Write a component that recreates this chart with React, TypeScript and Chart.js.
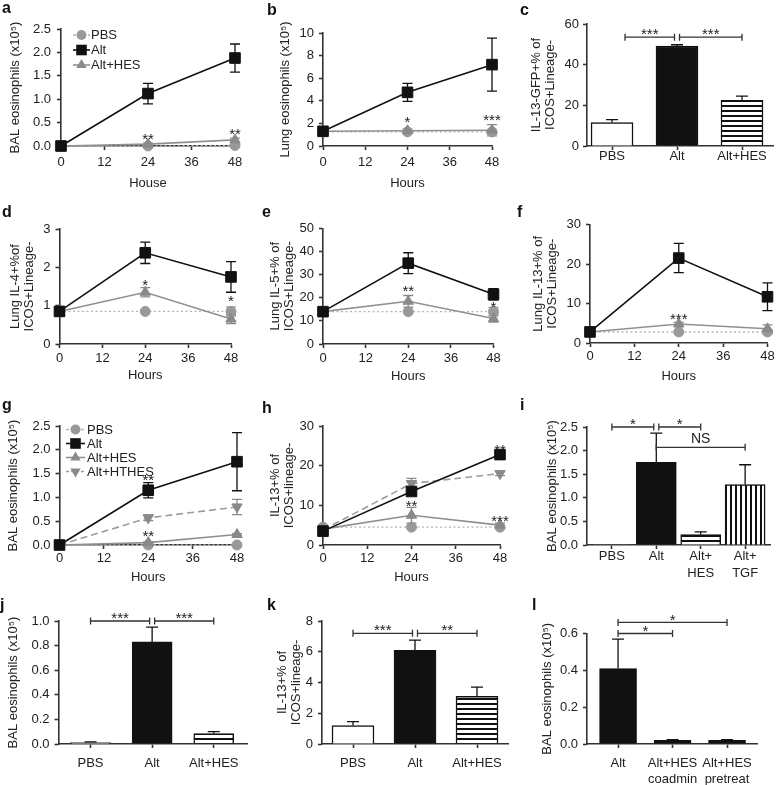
import React, { useEffect, useRef } from "react";
import { Chart, registerables } from "chart.js";
Chart.register(...registerables);

const FONT = "'Liberation Sans', Arial, Helvetica, sans-serif";
const TXT = "#222";
const AXIS = "#333";

// ---------------- shared ----------------
const hours = [0, 24, 48];
const hourTicks = [0, 12, 24, 36, 48];

// ---------------- a ----------------
const aYTicks = [0, 0.5, 1.0, 1.5, 2.0, 2.5];
const aPBS = [0, 0, 0.01];
const aPBSErr = [0, 0.005, 0.02];
const aAlt = [0, 1.12, 1.88];
const aAltErr = [0, 0.22, 0.3];
const aHES = [0, 0.04, 0.13];
const aHESErr = [0, 0.02, 0.04];
const aStars = [{ x: 24, y: 0.235, t: "**" }, { x: 48, y: 0.33, t: "**" }];

// ---------------- b ----------------
const bYTicks = [0, 2, 4, 6, 8, 10];
const bPBS = [1.25, 1.25, 1.25];
const bPBSErr = [0, 0, 0.2];
const bAlt = [1.3, 4.75, 7.2];
const bAltErr = [0, 0.8, 2.35];
const bHES = [1.3, 1.35, 1.4];
const bHESErr = [0, 0.15, 0.5];
const bStars = [{ x: 24, y: 2.45, t: "*" }, { x: 48, y: 2.6, t: "***" }];

// ---------------- c ----------------
const cYTicks = [0, 20, 40, 60];
const cLabels = ["PBS", "Alt", "Alt+HES"];
const cVals = [11.5, 49.2, 22.5];
const cErr = [1.5, 0.6, 2.0];
const cFills = ["white", "black", "h"];
const cBrackets = [
  { x1: 0.2, x2: 1, y: 53.5, t: "***", g2: 2.5 },
  { x1: 1, x2: 2, y: 53.5, t: "***", g1: 2.5 },
];

// ---------------- d ----------------
const dYTicks = [0, 1, 2, 3];
const dPBS = [0.85, 0.85, 0.85];
const dPBSErr = [0.12, 0, 0.12];
const dAlt = [0.85, 2.38, 1.75];
const dAltErr = [0, 0.28, 0.4];
const dHES = [0.85, 1.35, 0.65];
const dHESErr = [0.1, 0.12, 0.12];
const dStars = [{ x: 24, y: 1.63, t: "*" }, { x: 48, y: 1.21, t: "*" }];

// ---------------- e ----------------
const eYTicks = [0, 10, 20, 30, 40, 50];
const ePBS = [14, 14, 14];
const ePBSErr = [0, 0, 1.8];
const eAlt = [14, 35, 21.5];
const eAltErr = [1, 4.5, 2.5];
const eHES = [14, 18.5, 11];
const eHESErr = [1, 2.5, 1.5];
const eStars = [{ x: 24, y: 24.4, t: "**" }, { x: 48, y: 17.6, t: "*" }];

// ---------------- f ----------------
const fYTicks = [0, 10, 20, 30];
const fPBS = [2.8, 2.8, 2.8];
const fPBSErr = [0, 0, 0.6];
const fAlt = [2.8, 21.5, 11.7];
const fAltErr = [0.3, 3.7, 3.5];
const fHES = [2.8, 4.8, 3.6];
const fHESErr = [0.3, 0.4, 1.0];
const fStars = [{ x: 24, y: 7.1, t: "***" }];

// ---------------- g ----------------
const gYTicks = [0, 0.5, 1.0, 1.5, 2.0, 2.5];
const gPBS = [0, 0, 0];
const gAlt = [0, 1.15, 1.75];
const gAltErr = [0, 0.16, 0.61];
const gHES = [0, 0.05, 0.22];
const gHESErr = [0, 0.02, 0.02];
const gHTHES = [0, 0.57, 0.8];
const gHTHESErr = [0, 0.06, 0.16];
const gStars = [{ x: 24, y: 1.45, t: "**" }, { x: 24, y: 0.26, t: "**" }];

// ---------------- h ----------------
const hYTicks = [0, 10, 20, 30];
const hPBS = [4.5, 4.5, 4.5];
const hAlt = [3.5, 13.5, 22.8];
const hAltErr = [0, 0.7, 1.2];
const hHES = [4, 7.5, 5];
const hHESErr = [0, 2, 0.5];
const hHTHES = [3.8, 15.5, 18];
const hHTHESErr = [0, 1.3, 0.5];
const hStars = [
  { x: 24, y: 10.8, t: "**" },
  { x: 48, y: 24.8, t: "**" },
  { x: 48, y: 6.9, t: "***" },
];

// ---------------- i ----------------
const iYTicks = [0, 0.5, 1.0, 1.5, 2.0, 2.5];
const iLabels = ["PBS", "Alt", ["Alt+", "HES"], ["Alt+", "TGF"]];
const iVals = [0.01, 1.75, 0.22, 1.28];
const iErr = [0, 0.62, 0.06, 0.42];
const iFills = ["white", "black", "h", "v"];
const iBrackets = [
  { x1: 0, x2: 1, y: 2.5, t: "*", g2: 2.5 },
  { x1: 1, x2: 2, y: 2.5, t: "*", g1: 2.5 },
  { x1: 1, x2: 3, y: 2.07, t: "NS" },
];

// ---------------- j ----------------
const jYTicks = [0, 0.2, 0.4, 0.6, 0.8, 1.0];
const jLabels = ["PBS", "Alt", "Alt+HES"];
const jVals = [0.012, 0.83, 0.085];
const jErr = [0.006, 0.12, 0.015];
const jFills = ["white", "black", "h"];
const jBrackets = [
  { x1: 0, x2: 1, y: 1.0, t: "***", g2: 2.5 },
  { x1: 1, x2: 2, y: 1.0, t: "***", g1: 2.5 },
];

// ---------------- k ----------------
const kYTicks = [0, 2, 4, 6, 8];
const kLabels = ["PBS", "Alt", "Alt+HES"];
const kVals = [1.2, 6.1, 3.1];
const kErr = [0.25, 0.65, 0.6];
const kFills = ["white", "black", "h"];
const kBrackets = [
  { x1: 0, x2: 1, y: 7.2, t: "***", g2: 2.5 },
  { x1: 1, x2: 2, y: 7.2, t: "**", g1: 2.5 },
];

// ---------------- l ----------------
const lYTicks = [0, 0.2, 0.4, 0.6];
const lLabels = ["Alt", ["Alt+HES", "coadmin"], ["Alt+HES", "pretreat"]];
const lVals = [0.41, 0.02, 0.02];
const lErr = [0.16, 0.003, 0.003];
const lFills = ["black", "black", "black"];
const lBrackets = [
  { x1: 0, x2: 1, y: 0.6, t: "*" },
  { x1: 0, x2: 2, y: 0.66, t: "*" },
];

// ---------------- styles ----------------
const STY: Record<string, any> = {
  pbs: { borderColor: "#b5b5b5", pointBackgroundColor: "#999", pointBorderColor: "#999", pointStyle: "circle", pointRadius: 5, pointRotation: 0, borderWidth: 1.4, borderDash: [2, 2.5], err: "#999", order: 4 },
  alt: { borderColor: "#111", pointBackgroundColor: "#111", pointBorderColor: "#111", pointStyle: "rect", pointRadius: 7.5, pointRotation: 0, borderWidth: 1.6, borderDash: [], err: "#111", order: 1 },
  hes: { borderColor: "#909090", pointBackgroundColor: "#8a8a8a", pointBorderColor: "#8a8a8a", pointStyle: "triangle", pointRadius: 6, pointRotation: 0, borderWidth: 1.6, borderDash: [], err: "#8a8a8a", order: 2 },
  hthes: { borderColor: "#9c9c9c", pointBackgroundColor: "#8a8a8a", pointBorderColor: "#8a8a8a", pointStyle: "triangle", pointRadius: 6, pointRotation: 180, borderWidth: 1.6, borderDash: [7, 4], err: "#8a8a8a", order: 3 },
};

const BAL = "BAL eosinophils (x10\u2075)";

const panels: any[] = [
  {
    id: "a", type: "line", box: [0, 0, 255, 195], area: [61, 29, 235, 146],
    yTicks: aYTicks, yDec: 1, yTitle: BAL, yTitleX: 15, yTickPad: 6,
    xTitle: "House", xTitleY: 183, xTickCY: 162,
    series: [
      { label: "PBS", kind: "pbs", y: aPBS, err: aPBSErr },
      { label: "Alt", kind: "alt", y: aAlt, err: aAltErr },
      { label: "Alt+HES", kind: "hes", y: aHES, err: aHESErr },
    ],
    stars: aStars,
    legend: { x: 73, y: 35, row: 15, len: 17, tx: 91 },
  },
  {
    id: "b", type: "line", box: [255, 0, 255, 195], area: [323, 33, 492, 146],
    yTicks: bYTicks, yDec: 0, yTitle: "Lung eosinophils (x10\u2075)", yTitleX: 285, yTickPad: 5,
    xTitle: "Hours", xTitleY: 183, xTickCY: 162,
    series: [
      { label: "PBS", kind: "pbs", y: bPBS, err: bPBSErr },
      { label: "Alt", kind: "alt", y: bAlt, err: bAltErr },
      { label: "Alt+HES", kind: "hes", y: bHES, err: bHESErr },
    ],
    stars: bStars,
  },
  {
    id: "c", type: "bar", box: [510, 0, 266, 195], area: [587, 24, 773, 146], xRange: [-0.385, 2.477],
    yTicks: cYTicks, yDec: 0, yTitle: ["IL-13-GFP+% of", "ICOS+Lineage-"], yTitleX: 536, yTickPad: 4,
    xTickCY: 156, xTickLH: 15.6, labels: cLabels, values: cVals, errors: cErr, fills: cFills, barW: 42,
    brackets: cBrackets,
  },
  {
    id: "d", type: "line", box: [0, 195, 255, 195], area: [59.5, 229, 231, 344],
    yTicks: dYTicks, yDec: 0, yTitle: ["Lung IL-4+%of", "ICOS+Lineage-"], yTitleX: 15, yTickPad: 5,
    xTitle: "Hours", xTitleY: 375.7, xTickCY: 358.3,
    series: [
      { label: "PBS", kind: "pbs", y: dPBS, err: dPBSErr },
      { label: "Alt", kind: "alt", y: dAlt, err: dAltErr },
      { label: "Alt+HES", kind: "hes", y: dHES, err: dHESErr },
    ],
    stars: dStars,
  },
  {
    id: "e", type: "line", box: [255, 195, 255, 195], area: [323, 228.5, 493.5, 344],
    yTicks: eYTicks, yDec: 0, yTitle: ["Lung IL-5+% of", "ICOS+Lineage-"], yTitleX: 275, yTickPad: 5,
    xTitle: "Hours", xTitleY: 376.7, xTickCY: 358.3,
    series: [
      { label: "PBS", kind: "pbs", y: ePBS, err: ePBSErr },
      { label: "Alt", kind: "alt", y: eAlt, err: eAltErr },
      { label: "Alt+HES", kind: "hes", y: eHES, err: eHESErr },
    ],
    stars: eStars,
  },
  {
    id: "f", type: "line", box: [510, 195, 266, 195], area: [590, 224.5, 768.5, 343],
    yTicks: fYTicks, yDec: 0, yTitle: ["Lung IL-13+% of", "ICOS+Lineage-"], yTitleX: 538, yTickPad: 5,
    xTitle: "Hours", xTitleY: 376.7, xTickCY: 356.7,
    series: [
      { label: "PBS", kind: "pbs", y: fPBS, err: fPBSErr },
      { label: "Alt", kind: "alt", y: fAlt, err: fAltErr },
      { label: "Alt+HES", kind: "hes", y: fHES, err: fHESErr },
    ],
    stars: fStars,
  },
  {
    id: "g", type: "line", box: [0, 390, 255, 205], area: [59.5, 426, 237, 545],
    yTicks: gYTicks, yDec: 1, yTitle: BAL, yTitleX: 13, yTickPad: 5,
    xTitle: "Hours", xTitleY: 577.7, xTickCY: 558.3,
    series: [
      { label: "PBS", kind: "pbs", y: gPBS },
      { label: "Alt", kind: "alt", y: gAlt, err: gAltErr },
      { label: "Alt+HES", kind: "hes", y: gHES, err: gHESErr },
      { label: "Alt+HTHES", kind: "hthes", y: gHTHES, err: gHTHESErr },
    ],
    stars: gStars,
    legend: { x: 66, y: 429.5, row: 14, len: 19, tx: 87 },
  },
  {
    id: "h", type: "line", box: [255, 390, 255, 205], area: [323, 426, 500, 545],
    yTicks: hYTicks, yDec: 0, yTitle: ["IL-13+% of", "ICOS+lineage-"], yTitleX: 275, yTickPad: 5,
    xTitle: "Hours", xTitleY: 577.7, xTickCY: 558.3,
    series: [
      { label: "PBS", kind: "pbs", y: hPBS },
      { label: "Alt", kind: "alt", y: hAlt, err: hAltErr },
      { label: "Alt+HES", kind: "hes", y: hHES, err: hHESErr },
      { label: "Alt+HTHES", kind: "hthes", y: hHTHES, err: hHTHESErr },
    ],
    stars: hStars,
  },
  {
    id: "i", type: "bar", box: [510, 390, 266, 210], area: [587, 427, 770, 545], xRange: [-0.56, 3.56],
    yTicks: iYTicks, yDec: 1, yTitle: BAL, yTitleX: 552, yTickPad: 5,
    xTickCY: 556.7, xTickLH: 16.7, labels: iLabels, values: iVals, errors: iErr, fills: iFills, barW: 40,
    brackets: iBrackets,
  },
  {
    id: "j", type: "bar", box: [0, 598, 255, 187], area: [58.5, 621, 247, 744], xRange: [-0.52, 2.54],
    yTicks: jYTicks, yDec: 1, yTitle: BAL, yTitleX: 13, yTickPad: 5,
    xTickCY: 763, xTickLH: 15.6, labels: jLabels, values: jVals, errors: jErr, fills: jFills, barW: 40,
    brackets: jBrackets,
  },
  {
    id: "k", type: "bar", box: [255, 598, 255, 187], area: [322, 621, 508, 744], xRange: [-0.5, 2.5],
    yTicks: kYTicks, yDec: 0, yTitle: ["IL-13+% of", "ICOS+lineage-"], yTitleX: 282, yTickPad: 5,
    xTickCY: 763, xTickLH: 15.6, labels: kLabels, values: kVals, errors: kErr, fills: kFills, barW: 42,
    brackets: kBrackets,
  },
  {
    id: "l", type: "bar", box: [510, 598, 266, 187], area: [587, 633.5, 757, 744], xRange: [-0.57, 2.55],
    yTicks: lYTicks, yDec: 1, yTitle: BAL, yTitleX: 547, yTickPad: 5,
    xTickCY: 763, xTickLH: 16.7, labels: lLabels, values: lVals, errors: lErr, fills: lFills, barW: 37,
    brackets: lBrackets,
  },
];

const panelLetters: [string, number, number][] = [
  ["a", 2, 13], ["b", 267, 15], ["c", 520, 15],
  ["d", 2, 217], ["e", 262, 217], ["f", 517, 217],
  ["g", 2, 410], ["h", 262, 413], ["i", 520, 410],
  ["j", 0, 610], ["k", 267, 610], ["l", 532, 610],
];

// ---------------- helpers ----------------
function hPattern(period: number, line: number) {
  const c = document.createElement("canvas");
  c.width = 4; c.height = period;
  const g = c.getContext("2d")!;
  g.fillStyle = "#fff"; g.fillRect(0, 0, 4, period);
  g.fillStyle = "#111"; g.fillRect(0, 0, 4, line);
  return g.createPattern(c, "repeat")!;
}
function vPattern(period: number, line: number) {
  const c = document.createElement("canvas");
  c.width = period; c.height = 4;
  const g = c.getContext("2d")!;
  g.fillStyle = "#fff"; g.fillRect(0, 0, period, 4);
  g.fillStyle = "#111"; g.fillRect(0, 0, line, 4);
  return g.createPattern(c, "repeat")!;
}

function drawMarker(ctx: CanvasRenderingContext2D, kind: string, x: number, y: number) {
  const st = STY[kind];
  const r = st.pointRadius;
  ctx.save();
  ctx.setLineDash([]);
  ctx.fillStyle = st.pointBackgroundColor;
  ctx.beginPath();
  if (st.pointStyle === "rect") {
    const s = r * Math.SQRT1_2;
    ctx.rect(x - s, y - s, 2 * s, 2 * s);
  } else if (st.pointStyle === "circle") {
    ctx.arc(x, y, r, 0, Math.PI * 2);
  } else {
    const rot = (st.pointRotation * Math.PI) / 180;
    for (let k = 0; k < 3; k++) {
      const a = rot + (k * 2 * Math.PI) / 3;
      const px = x + Math.sin(a) * r;
      const py = y - Math.cos(a) * r;
      if (k === 0) ctx.moveTo(px, py); else ctx.lineTo(px, py);
    }
    ctx.closePath();
  }
  ctx.fill();
  ctx.restore();
}

function drawStar(ctx: CanvasRenderingContext2D, t: string, x: number, cy: number, size = 15) {
  ctx.save();
  ctx.fillStyle = TXT;
  ctx.font = `${size}px ${FONT}`;
  ctx.textAlign = "center";
  ctx.textBaseline = "alphabetic";
  if (t === "NS") {
    ctx.font = `14px ${FONT}`;
    ctx.fillText(t, x, cy);
  } else {
    ctx.fillText(t, x, cy + 0.57 * size);
  }
  ctx.restore();
}

function extras(cfg: any) {
  const [L, T] = cfg.box;
  return {
    id: "extras",
    beforeDatasetsDraw(chart: any) {
      if (cfg.type !== "line") return;
      const { ctx } = chart;
      const xs = chart.scales.x, ys = chart.scales.y;
      cfg.series.forEach((s: any) => {
        if (!s.err) return;
        const st = STY[s.kind];
        ctx.save();
        ctx.strokeStyle = st.err;
        ctx.lineWidth = 1.3;
        ctx.setLineDash([]);
        s.y.forEach((v: number, i: number) => {
          const e = s.err[i];
          if (!e) return;
          const px = xs.getPixelForValue(hours[i]);
          const t = ys.getPixelForValue(v + e);
          const b = ys.getPixelForValue(Math.max(0, v - e));
          ctx.beginPath();
          ctx.moveTo(px, t); ctx.lineTo(px, b);
          ctx.moveTo(px - 5, t); ctx.lineTo(px + 5, t);
          ctx.moveTo(px - 5, b); ctx.lineTo(px + 5, b);
          ctx.stroke();
        });
        ctx.restore();
      });
    },
    afterDatasetsDraw(chart: any) {
      if (cfg.type !== "bar") return;
      const { ctx } = chart;
      const xs = chart.scales.x, ys = chart.scales.y;
      ctx.save();
      ctx.strokeStyle = "#111";
      ctx.lineWidth = 1.3;
      cfg.values.forEach((v: number, i: number) => {
        const e = cfg.errors[i];
        if (!e) return;
        const px = xs.getPixelForValue(i);
        const t = ys.getPixelForValue(v + e);
        const b = ys.getPixelForValue(v);
        ctx.beginPath();
        ctx.moveTo(px, t); ctx.lineTo(px, b);
        ctx.moveTo(px - 6, t); ctx.lineTo(px + 6, t);
        ctx.stroke();
      });
      ctx.restore();
    },
    afterDraw(chart: any) {
      const { ctx } = chart;
      const xs = chart.scales.x, ys = chart.scales.y;
      (cfg.stars || []).forEach((s: any) => {
        drawStar(ctx, s.t, xs.getPixelForValue(s.x), ys.getPixelForValue(s.y));
      });
      (cfg.brackets || []).forEach((b: any) => {
        const x1 = xs.getPixelForValue(b.x1) + (b.g1 || 0);
        const x2 = xs.getPixelForValue(b.x2) - (b.g2 || 0);
        const y = ys.getPixelForValue(b.y);
        ctx.save();
        ctx.strokeStyle = "#333";
        ctx.lineWidth = 1.3;
        ctx.beginPath();
        ctx.moveTo(x1, y); ctx.lineTo(x2, y);
        ctx.moveTo(x1, y - 3.5); ctx.lineTo(x1, y + 3.5);
        ctx.moveTo(x2, y - 3.5); ctx.lineTo(x2, y + 3.5);
        ctx.stroke();
        ctx.restore();
        if (b.t === "NS") drawStar(ctx, b.t, (x1 + x2) / 2, y - 4);
        else drawStar(ctx, b.t, (x1 + x2) / 2, y - 6.5);
      });
      if (cfg.legend) {
        const lg = cfg.legend;
        cfg.series.forEach((s: any, i: number) => {
          const st = STY[s.kind];
          const y = lg.y - T + i * lg.row;
          const x0 = lg.x - L;
          ctx.save();
          ctx.strokeStyle = st.borderColor;
          ctx.lineWidth = st.borderWidth;
          ctx.setLineDash(st.borderDash.length ? [3, 2] : []);
          ctx.beginPath();
          ctx.moveTo(x0, y); ctx.lineTo(x0 + lg.len, y);
          ctx.stroke();
          ctx.restore();
          drawMarker(ctx, s.kind, x0 + lg.len / 2, y);
          ctx.save();
          ctx.fillStyle = TXT;
          ctx.font = `13px ${FONT}`;
          ctx.textAlign = "left";
          ctx.textBaseline = "middle";
          ctx.fillText(s.label, lg.tx - L, y + 0.5);
          ctx.restore();
        });
      }
    },
  };
}

const TICK_FONT = { family: FONT, size: 13, lineHeight: 1.2 };
const TITLE_LH = 1.08;

function yScale(cfg: any) {
  const [L] = cfg.box;
  const yW = cfg.area[0] - L;
  const lh = 13 * TITLE_LH;
  return {
    type: "linear",
    min: 0,
    max: cfg.yTicks[cfg.yTicks.length - 1],
    bounds: "data",
    afterBuildTicks: (s: any) => { s.ticks = cfg.yTicks.map((v: number) => ({ value: v })); },
    afterFit: (s: any) => { s.width = yW; s.paddingTop = 0; s.paddingBottom = 0; },
    border: { display: true, color: AXIS, width: 1.6 },
    grid: { display: true, drawOnChartArea: false, drawTicks: true, tickLength: 4, tickWidth: 1.6, tickColor: AXIS },
    ticks: {
      color: TXT, font: TICK_FONT, padding: cfg.yTickPad, autoSkip: false,
      callback: (v: any) => Number(v).toFixed(cfg.yDec),
    },
    title: {
      display: true, text: cfg.yTitle, color: TXT,
      font: { family: FONT, size: 13, lineHeight: TITLE_LH },
      padding: { top: cfg.yTitleX - L - lh / 2, bottom: 0 },
    },
  };
}

function xBase(cfg: any, lh: number) {
  const [, T, , H] = cfg.box;
  const xH = T + H - cfg.area[3];
  return {
    type: "linear",
    bounds: "data",
    offset: false,
    afterFit: (s: any) => { s.height = xH; s.paddingLeft = 0; s.paddingRight = 0; },
    border: { display: true, color: AXIS, width: 1.6 },
    grid: { display: true, offset: false, drawOnChartArea: false, drawTicks: true, tickLength: 4, tickWidth: 1.6, tickColor: AXIS },
    ticks: {
      color: TXT, font: { family: FONT, size: 13, lineHeight: lh / 13 },
      padding: cfg.xTickCY - cfg.area[3] - 4 - lh / 2,
      autoSkip: false, maxRotation: 0, minRotation: 0,
    },
  };
}

function layout(cfg: any) {
  const [L, T, W] = cfg.box;
  return { padding: { left: 0, top: cfg.area[1] - T, right: L + W - cfg.area[2], bottom: 0 } };
}

function makeLine(canvas: HTMLCanvasElement, cfg: any) {
  const [, T, , H] = cfg.box;
  const xs: any = xBase(cfg, 15.6);
  xs.min = 0;
  xs.max = 48;
  xs.afterBuildTicks = (s: any) => { s.ticks = hourTicks.map((v) => ({ value: v })); };
  xs.ticks.callback = (v: any) => String(v);
  xs.title = {
    display: true, text: cfg.xTitle, color: TXT,
    font: { family: FONT, size: 13, lineHeight: 1.2 },
    padding: { top: 0, bottom: T + H - cfg.xTitleY - 7.8 },
  };
  return new Chart(canvas, {
    type: "line",
    data: {
      datasets: cfg.series.map((s: any) => {
        const st = STY[s.kind];
        return {
          label: s.label,
          data: hours.map((h, i) => ({ x: h, y: s.y[i] })),
          borderColor: st.borderColor,
          borderWidth: st.borderWidth,
          borderDash: st.borderDash,
          pointStyle: st.pointStyle,
          pointRadius: st.pointRadius,
          pointRotation: st.pointRotation,
          pointBackgroundColor: st.pointBackgroundColor,
          pointBorderColor: st.pointBorderColor,
          pointBorderWidth: 1,
          tension: 0,
          fill: false,
          clip: false,
          order: st.order,
        };
      }),
    },
    options: {
      responsive: false,
      animation: false,
      devicePixelRatio: 1,
      events: [],
      layout: layout(cfg),
      plugins: { legend: { display: false }, tooltip: { enabled: false }, title: { display: false } },
      scales: { x: xs, y: yScale(cfg) },
    } as any,
    plugins: [extras(cfg)],
  } as any);
}

function makeBar(canvas: HTMLCanvasElement, cfg: any) {
  const xs: any = xBase(cfg, cfg.xTickLH);
  xs.min = cfg.xRange[0];
  xs.max = cfg.xRange[1];
  xs.afterBuildTicks = (s: any) => { s.ticks = cfg.labels.map((_: any, i: number) => ({ value: i })); };
  xs.ticks.callback = (v: any) => cfg.labels[Math.round(Number(v))];
  const hp = hPattern(5, 2);
  const vp = vPattern(5, 2);
  const fills = cfg.fills.map((f: string) => (f === "white" ? "#fff" : f === "black" ? "#111" : f === "h" ? hp : vp));
  return new Chart(canvas, {
    type: "bar",
    data: {
      datasets: [
        {
          data: cfg.values.map((v: number, i: number) => ({ x: i, y: v })),
          backgroundColor: fills,
          borderColor: "#111",
          borderWidth: 1.5,
          barThickness: cfg.barW,
        },
      ],
    },
    options: {
      responsive: false,
      animation: false,
      devicePixelRatio: 1,
      events: [],
      layout: layout(cfg),
      plugins: { legend: { display: false }, tooltip: { enabled: false }, title: { display: false } },
      scales: { x: xs, y: yScale(cfg) },
    } as any,
    plugins: [extras(cfg)],
  } as any);
}

function Panel({ cfg }: { cfg: any }) {
  const ref = useRef<HTMLCanvasElement>(null);
  useEffect(() => {
    const chart = cfg.type === "line" ? makeLine(ref.current!, cfg) : makeBar(ref.current!, cfg);
    return () => chart.destroy();
  }, [cfg]);
  const [L, T, W, H] = cfg.box;
  return (
    <canvas
      ref={ref}
      width={W}
      height={H}
      style={{ position: "absolute", left: L, top: T, width: W, height: H }}
    />
  );
}

export default function App() {
  return (
    <div style={{ position: "absolute", left: 0, top: 0, width: 776, height: 785, background: "#fff", overflow: "hidden" }}>
      {panels.map((p) => (
        <Panel key={p.id} cfg={p} />
      ))}
      {panelLetters.map(([t, x, base]) => (
        <div
          key={t}
          style={{
            position: "absolute", left: x, top: base - 13.5, fontFamily: FONT, fontWeight: "bold",
            fontSize: 16, lineHeight: "16px", color: "#111",
          }}
        >
          {t}
        </div>
      ))}
    </div>
  );
}
